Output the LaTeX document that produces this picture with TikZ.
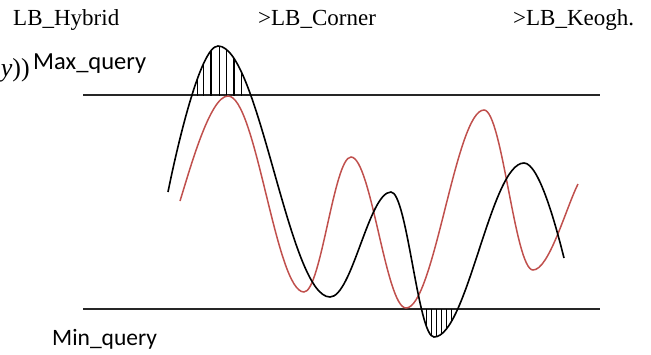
\documentclass[tikz,border=0pt]{standalone}
\usepackage{fontspec}
\setmainfont{Liberation Serif}
\newfontfamily\calfont{Carlito}
\definecolor{curvered}{RGB}{192,80,77}
\begin{document}
\begin{tikzpicture}[x=1pt,y=-1pt,
  serifText/.style={inner sep=0pt,font=\fontsize{23}{26}\selectfont},
  sansText/.style={inner sep=0pt,font=\calfont\fontsize{23.5}{26}\selectfont},
  limitLine/.style={line width=1.3pt,black!85},
  blackCurve/.style={line width=1.6pt,black},
  redCurve/.style={line width=1.5pt,curvered},
  hatchTop/.style={line width=1.4pt,black},
  hatchBot/.style={line width=1pt,black}]
\useasboundingbox (0,0) rectangle (651,354);
% texts
\node[serifText,anchor=base west] (hyb) at (13,25) {LB\_Hybrid};
\node[serifText,anchor=base west] (cor) at (258,25) {>LB\_Corner};
\node[serifText,anchor=base west] (keo) at (513,25) {>LB\_Keogh.};
\node[serifText,anchor=base east,font=\fontsize{26}{28}\selectfont] (yy) at (30,76) {\textit{y}))};
\node[sansText,anchor=base west,font=\calfont\fontsize{24.5}{26}\selectfont] (maxq) at (33,69) {Max\_query};
\node[sansText,anchor=base west] (minq) at (52,345) {Min\_query};
% limit lines
\coordinate (tl) at (83,95);
\coordinate (tr) at (600,95);
\coordinate (bl) at (83,309);
\coordinate (br) at (600,309);
\draw[limitLine] (tl) -- (tr);
\draw[limitLine] (bl) -- (br);
% hatching above max line
\begin{scope}
  \clip (0,0) rectangle (651,95);
  \clip (168,192) .. controls (176,152) and (200,46) .. (218,46)
        .. controls (259,46) and (289,297) .. (330,297) -- cycle;
  \foreach \hx in {192.7,197.3,203.3,211,219.3,226.7,234,241.7}
    \draw[hatchTop] (\hx,96) -- (\hx,40);
\end{scope}
% hatching below min line
\begin{scope}
  \clip (0,309) rectangle (651,354);
  \clip (391,192) .. controls (407,192) and (418,337) .. (434,337)
        .. controls (467,337) and (491,163) .. (524,163) -- cycle;
  \foreach \hx in {426.7,431,436,441,446,451.7}
    \draw[hatchBot] (\hx,308) -- (\hx,345);
\end{scope}
% red curve
\coordinate (rs) at (180,201);
\coordinate (re) at (578,184);
\draw[redCurve] (rs) .. controls (190,169) and (210,96) .. (228,96)
  .. controls (256,96) and (276,292) .. (304,292)
  .. controls (321,292) and (334,157) .. (351,157)
  .. controls (371,157) and (386,308) .. (406,308)
  .. controls (434,308) and (456,110) .. (484,110)
  .. controls (502,110) and (515,270) .. (533,270)
  .. controls (549,270) and (566,208) .. (re);
% black curve
\coordinate (bs) at (168,192);
\coordinate (be) at (564,258);
\draw[blackCurve] (bs) .. controls (176,152) and (200,46) .. (218,46)
  .. controls (259,46) and (289,297) .. (330,297)
  .. controls (352,297) and (369,192) .. (391,192)
  .. controls (407,192) and (418,337) .. (434,337)
  .. controls (467,337) and (491,163) .. (524,163)
  .. controls (539,163) and (556,226) .. (be);
\end{tikzpicture}
\end{document}
